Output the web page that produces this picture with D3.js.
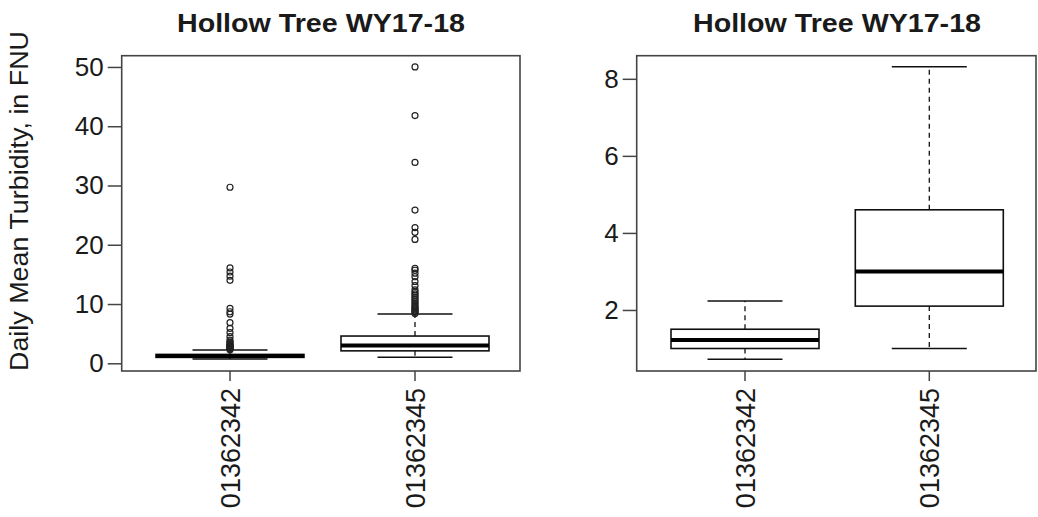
<!DOCTYPE html>
<html>
<head>
<meta charset="utf-8">
<script src="https://cdn.jsdelivr.net/npm/d3@7"></script>
<style>
  html, body { margin: 0; padding: 0; background: #fff; }
  svg { display: block; }
  text { font-family: "Liberation Sans", Arial, Helvetica, sans-serif; fill: #1a1a1a; }
</style>
</head>
<body>
<svg id="chart" width="1038" height="517"></svg>
<script>
// ---- data ----
const categories = ["01362342", "01362345"];
const whiskerLow  = [0.72, 1.0];
const quartile1   = [1.0, 2.1];
const medians     = [1.22, 3.0];
const quartile3   = [1.5, 4.6];
const whiskerHigh = [2.23, 8.31];
const outliers342 = [29.7, 16.1, 15.4, 14.7, 14.0, 9.27, 8.7, 8.3, 6.85, 5.9, 5.2, 4.5, 3.9,
                     3.6, 3.4, 3.2, 3.0, 2.9, 2.8, 2.7, 2.6, 2.5, 2.4, 2.3];
const outliers345 = [50.0, 41.8, 33.9, 25.85, 22.9, 22.1, 20.9, 16.0, 15.7, 15.2, 14.6, 13.8,
                     13.1, 12.4, 12.0, 11.7, 11.4, 11.1, 10.8, 10.5, 10.2, 9.9, 9.6, 9.4,
                     9.2, 9.0, 8.8, 8.6, 8.4];
const leftTicks  = [0, 10, 20, 30, 40, 50];
const rightTicks = [2, 4, 6, 8];
const titleText = "Hollow Tree WY17-18";
const yLabel = "Daily Mean Turbidity, in FNU";

const svg = d3.select("#chart");

const panels = [
  { frame: [121.7, 520, 55.7, 371], cats: [230, 415], domain: [-1.3, 51.9], ticks: leftTicks,
    outliers: [outliers342, outliers345], titleX: 321 },
  { frame: [636.7, 1036, 55.7, 371], cats: [745, 929.3], domain: [0.416, 8.6], ticks: rightTicks,
    outliers: null, titleX: 837 }
];

panels.forEach(p => {
  const [x0, x1, y0, y1] = p.frame;
  const y = d3.scaleLinear().domain(p.domain).range([y1, y0]);
  const x = d3.scaleOrdinal().domain(categories).range(p.cats);
  const g = svg.append("g");

  const boxW = 148, capW = 75;

  categories.forEach((c, i) => {
    const cx = x(c);
    g.append("line").attr("x1", cx).attr("x2", cx)
      .attr("y1", y(quartile3[i])).attr("y2", y(whiskerHigh[i]))
      .attr("stroke", "#111").attr("stroke-width", 1.3).attr("stroke-dasharray", "5,4");
    g.append("line").attr("x1", cx).attr("x2", cx)
      .attr("y1", y(quartile1[i])).attr("y2", y(whiskerLow[i]))
      .attr("stroke", "#111").attr("stroke-width", 1.3).attr("stroke-dasharray", "5,4");
    [whiskerHigh[i], whiskerLow[i]].forEach(v => {
      g.append("line").attr("x1", cx - capW / 2).attr("x2", cx + capW / 2)
        .attr("y1", y(v)).attr("y2", y(v))
        .attr("stroke", "#111").attr("stroke-width", 1.5);
    });
    g.append("rect").attr("x", cx - boxW / 2).attr("width", boxW)
      .attr("y", y(quartile3[i])).attr("height", y(quartile1[i]) - y(quartile3[i]))
      .attr("fill", "#fff").attr("stroke", "#111").attr("stroke-width", 1.6);
    g.append("line").attr("x1", cx - boxW / 2).attr("x2", cx + boxW / 2)
      .attr("y1", y(medians[i])).attr("y2", y(medians[i]))
      .attr("stroke", "#000").attr("stroke-width", 4);
    if (p.outliers) {
      g.selectAll(null).data(p.outliers[i]).enter().append("circle")
        .attr("cx", cx).attr("cy", d => y(d)).attr("r", 3)
        .attr("fill", "none").attr("stroke", "#222").attr("stroke-width", 1.2);
    }
  });

  g.append("rect").attr("x", x0).attr("y", y0).attr("width", x1 - x0).attr("height", y1 - y0)
    .attr("fill", "none").attr("stroke", "#444").attr("stroke-width", 1.6);

  const yAxis = d3.axisLeft(y).tickValues(p.ticks).tickSize(14).tickPadding(4).tickFormat(d3.format("d"));
  const ya = g.append("g").attr("transform", `translate(${x0},0)`).call(yAxis);
  ya.select(".domain").remove();
  ya.selectAll(".tick line").attr("stroke", "#444").attr("stroke-width", 1.5);
  ya.selectAll(".tick text").attr("font-size", 26).attr("fill", "#1a1a1a")
    .attr("font-family", "Liberation Sans, Arial, sans-serif");

  categories.forEach(c => {
    g.append("line").attr("x1", x(c)).attr("x2", x(c)).attr("y1", y1).attr("y2", y1 + 10)
      .attr("stroke", "#444").attr("stroke-width", 1.5);
    g.append("text")
      .attr("transform", `translate(${x(c)},${y1 + 17}) rotate(-90)`)
      .attr("text-anchor", "end").attr("dy", "0.36em")
      .attr("font-size", 27)
      .text(c);
  });

  g.append("text").attr("x", p.titleX).attr("y", 32).attr("text-anchor", "middle")
    .attr("font-size", 25).attr("font-weight", "bold")
    .attr("textLength", 288).attr("lengthAdjust", "spacingAndGlyphs")
    .text(titleText);
});

svg.append("text")
  .attr("transform", "translate(28,201) rotate(-90)")
  .attr("text-anchor", "middle").attr("font-size", 26)
  .attr("textLength", 340).attr("lengthAdjust", "spacingAndGlyphs")
  .text(yLabel);
</script>
</body>
</html>
